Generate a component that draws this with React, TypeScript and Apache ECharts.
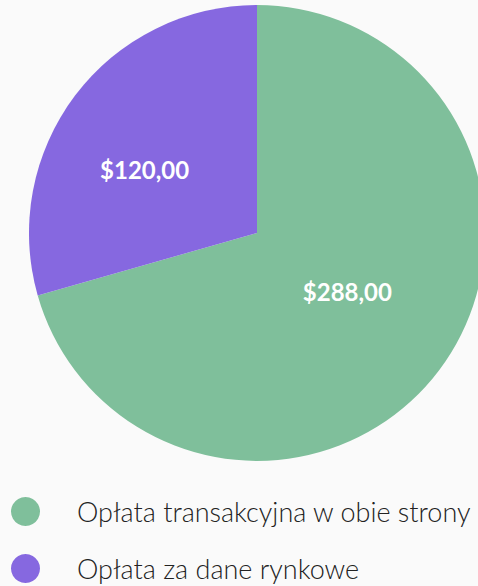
import React, { useEffect, useRef } from "react";
import * as echarts from "echarts";

const categories = ["Opłata transakcyjna w obie strony", "Opłata za dane rynkowe"];
const values = [288, 120];
const colors = ["#7fbf9b", "#8668e0"];
const labelOffsets = [[-3, -12], [-19, 7]];

export default function App() {
  const ref = useRef<HTMLDivElement>(null);
  useEffect(() => {
    if (!ref.current) return;
    const chart = echarts.init(ref.current, null, { renderer: "svg" });
    chart.setOption({
      animation: false,
      backgroundColor: "#fafafa",
      legend: {
        orient: "vertical",
        left: 11,
        top: 497,
        padding: 0,
        icon: "circle",
        itemWidth: 29,
        itemHeight: 29,
        itemGap: 28,
        selectedMode: false,
        textStyle: {
          fontFamily: "Lato",
          fontSize: 27,
          fontWeight: 300,
          color: "#222",
          padding: [0, 0, 0, 32],
        },
        data: categories,
      },
      series: [
        {
          type: "pie",
          center: [257, 233],
          radius: [0, 228],
          startAngle: 90,
          clockwise: true,
          label: {
            show: true,
            position: "inside",
            color: "#fff",
            fontFamily: "Lato",
            fontWeight: "bold",
            fontSize: 24,
            formatter: (p: any) => "$" + p.value.toFixed(2).replace(".", ","),
          },
          labelLine: { show: false },
          emphasis: { disabled: true },
          itemStyle: { borderWidth: 0 },
          data: categories.map((name, i) => ({
            name,
            value: values[i],
            itemStyle: { color: colors[i] },
            label: { offset: labelOffsets[i] },
          })),
        },
      ],
    });
    return () => chart.dispose();
  }, []);
  return <div ref={ref} style={{ width: 478, height: 586, position: "absolute", left: 0, top: 0 }} />;
}
